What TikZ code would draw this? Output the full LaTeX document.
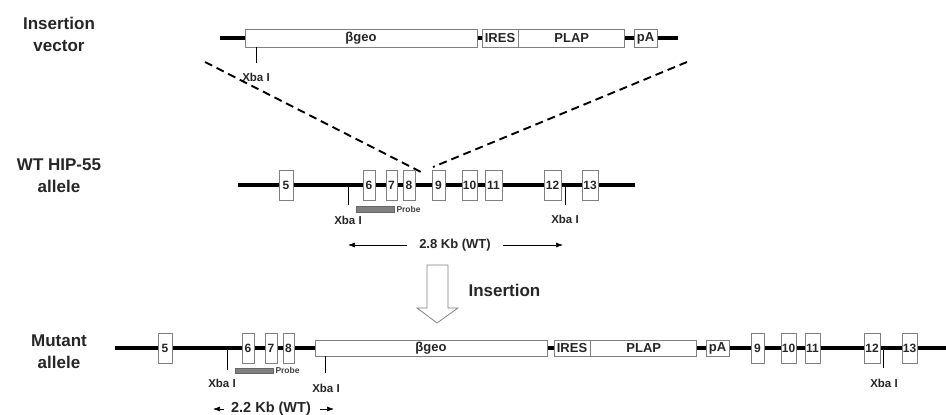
\documentclass[tikz,border=0pt]{standalone}
\usepackage{fontspec}
\setmainfont{Liberation Sans}
\usetikzlibrary{positioning,arrows.meta}
\newcommand{\fsz}[2]{\fontsize{#1}{#2}\selectfont}

\begin{document}
\begin{tikzpicture}[x=1pt,y=-1pt,
    dna/.style={line width=3.5pt},
    gene/.style={draw=gray, line width=0.8pt, fill=white, inner sep=0pt, minimum height=18pt, font=\bfseries\fsz{13}{13}, text=black!85},
    exon/.style={gene, minimum height=30pt, font=\bfseries\fsz{12}{12}},
    tick/.style={line width=1pt},
    xba/.style={font=\bfseries\fsz{11.5}{11.5}, text=black!85, inner sep=1pt},
    probe/.style={draw=black!60, fill=gray, line width=0.6pt, minimum width=38pt, minimum height=6pt, inner sep=0pt},
    probelab/.style={font=\bfseries\fsz{8.5}{8.5}, text=black!75, inner sep=1pt},
    rowlab/.style={font=\bfseries\fsz{17}{22}, align=center, text=black!85},
    kb/.style={font=\bfseries\fsz{13}{13}, text=black!85},
    span/.style={-{Latex[length=7pt,width=5pt]}, line width=0.6pt},
    cut/.style={dash pattern=on 8pt off 5pt, line width=1.9pt}]
  \useasboundingbox (0,0) rectangle (946,415);

  % row labels
  \node[rowlab] (lvec) at (59,34) {Insertion\\vector};
  \node[rowlab] (lwt) at (59,176) {WT HIP-55\\allele};
  \node[rowlab] (lmut) at (59,352) {Mutant\\allele};

  % insertion vector
  \coordinate (vl) at (220,38); \coordinate (vr) at (678,38);
  \draw[dna] (vl) -- (vr);
  \node[gene, minimum width=232pt] (vgeo) at (361,38) {βgeo};
  \node[gene, minimum width=36pt] (vires) at (500,38) {IRES};
  \node[gene, minimum width=106pt, right=0pt of vires] (vplap) {PLAP};
  \node[gene, minimum width=23pt] (vpa) at (645.5,38) {pA};

  % dashed insertion lines
  \coordinate (cl) at (205,62); \coordinate (cla) at (423,173);
  \coordinate (cr) at (687,62); \coordinate (cra) at (433,167);
  \draw[cut] (cl) -- (cla);
  \draw[cut] (cr) -- (cra);

  % WT allele
  \coordinate (wl) at (238,185); \coordinate (wr) at (635,185);
  \draw[dna] (wl) -- (wr);
  \foreach \n/\x/\w in {5/286/14, 6/369/12, 7/391.5/11, 8/409/12, 9/438.5/13, 10/469.5/15, 11/493.5/17, 12/552.5/17, 13/590/16}
    \node[exon, minimum width=\w pt] (wt\n) at (\x,185) {\n};
  \node[probe] (wtp) at (375,209) {};
  \node[probelab, right=1pt of wtp] (wtpl) {Probe};

  % mutant allele
  \coordinate (ml) at (115,348); \coordinate (mr) at (946,348);
  \draw[dna] (ml) -- (mr);
  \foreach \n/\x/\w in {5/165/14, 6/248/12, 7/271/12, 8/288.5/11, 9/757.5/13, 10/788.5/15, 11/812.5/15, 12/872/16, 13/909.5/15}
    \node[exon, minimum width=\w pt] (mt\n) at (\x,348) {\n};
  \node[gene, minimum width=232pt, minimum height=16pt] (mgeo) at (431,348) {βgeo};
  \node[gene, minimum width=36pt, minimum height=16pt] (mires) at (572,348) {IRES};
  \node[gene, minimum width=106pt, minimum height=16pt, right=0pt of mires] (mplap) {PLAP};
  \node[gene, minimum width=23pt, minimum height=16pt] (mpa) at (717.5,348) {pA};
  \node[probe, minimum height=5pt] (mtp) at (254,370.5) {};
  \node[probelab, right=1pt of mtp] (mtpl) {Probe};

  % Xba I sites
  \foreach \nm/\x/\ya/\yb/\xl/\yl in {vx/256/47/63/256/77, wxa/348/185/205/348/220, wxb/565/185/205/565/219,
      mxa/227/348/370/222/383, mxb/325/356/373/326/388, mxc/883/348/368/884/383} {
    \coordinate (\nm a) at (\x,\ya); \coordinate (\nm b) at (\x,\yb);
    \draw[tick] (\nm a) -- (\nm b);
    \node[xba] (\nm l) at (\xl,\yl) {Xba I};
  }

  % fragment sizes
  \node[kb] (kb28) at (455,245) {2.8 Kb (WT)};
  \coordinate (kb28l) at (348,245); \coordinate (kb28r) at (563,245);
  \draw[span] ([xshift=-9pt]kb28.west) -- (kb28l);
  \draw[span] ([xshift=9pt]kb28.east) -- (kb28r);
  \node[kb, font=\bfseries\fsz{14.5}{14.5}] (kb22) at (271,409) {2.2 Kb (WT)};
  \coordinate (kb22l) at (213,409); \coordinate (kb22r) at (334,409);
  \draw[span] ([xshift=-4pt]kb22.west) -- (kb22l);
  \draw[span] ([xshift=6pt]kb22.east) -- (kb22r);

  % insertion arrow
  \draw[gray, line width=0.8pt, fill=white] (427,265) -- (448,265) -- (448,308) -- (458,308) -- (437,323) -- (417,308) -- (427,308) -- cycle;
  \node[rowlab, anchor=west] (ins) at (465,290) {Insertion};
\end{tikzpicture}
\end{document}
